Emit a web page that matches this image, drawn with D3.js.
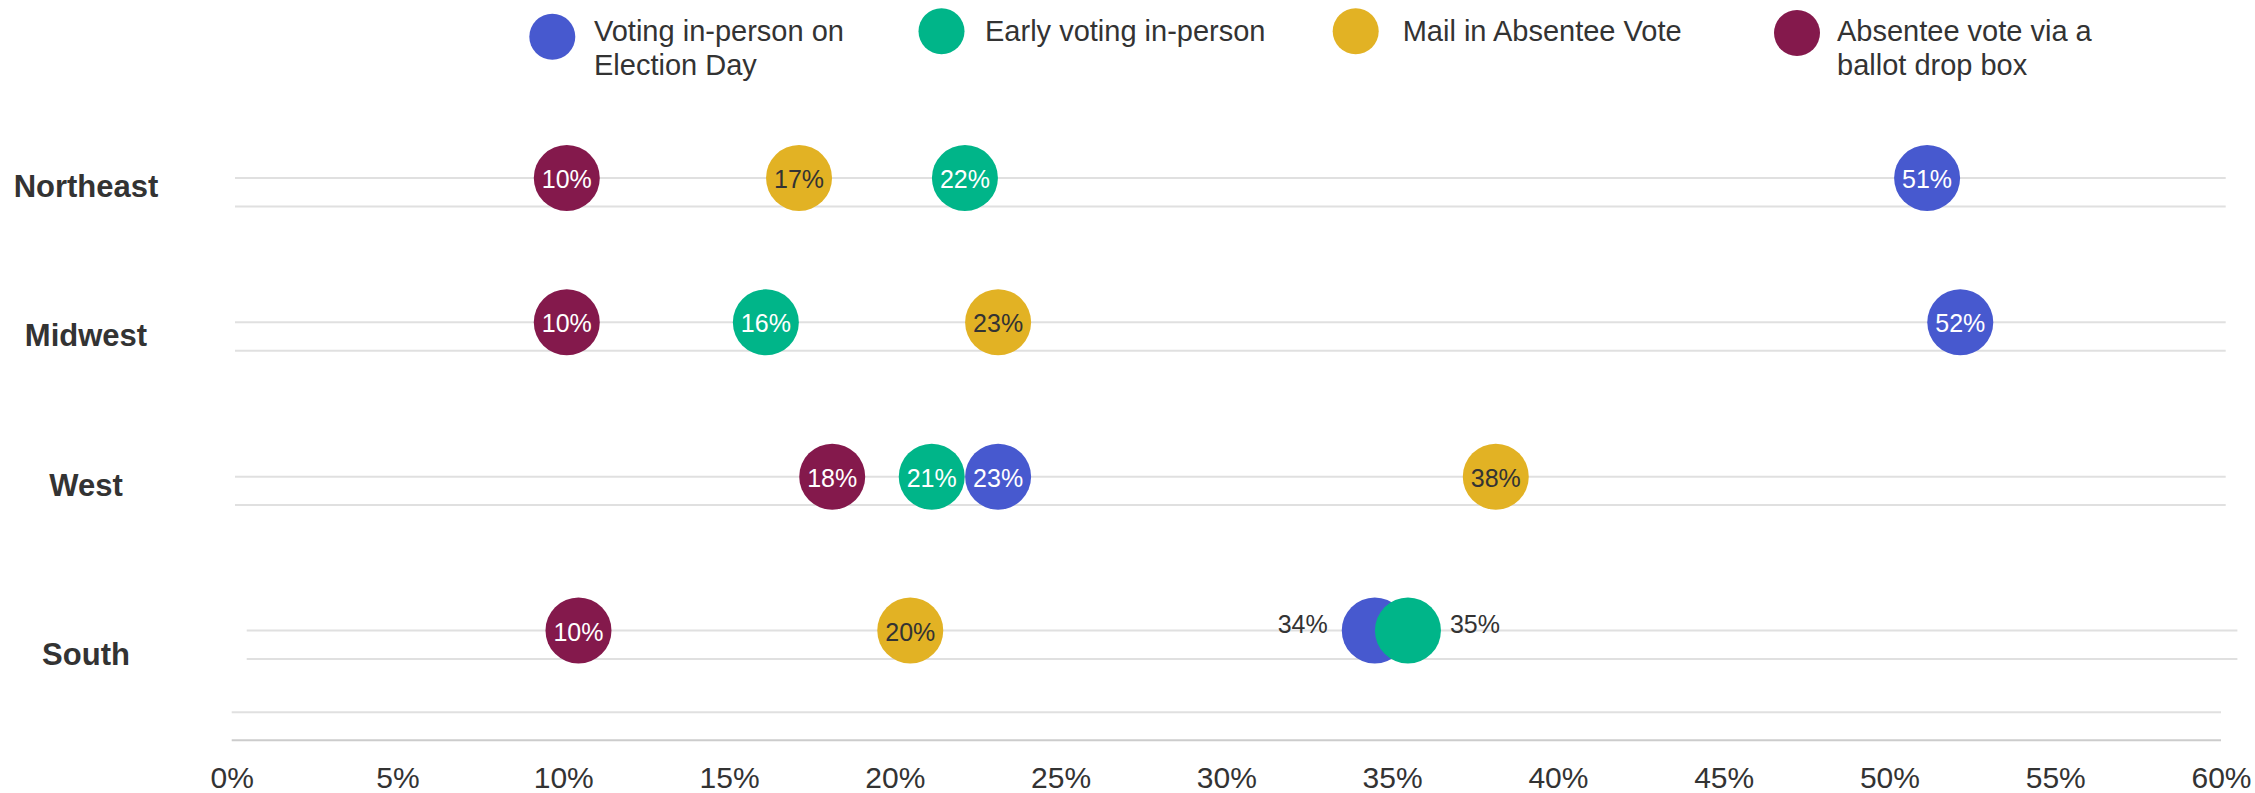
<!DOCTYPE html>
<html>
<head>
<meta charset="utf-8">
<script src="https://cdn.jsdelivr.net/npm/d3@7"></script>
<style>
  html, body { margin: 0; padding: 0; background: #ffffff; }
  svg { display: block; font-family: "Liberation Sans", Arial, sans-serif; }
</style>
</head>
<body>
<svg id="chart" width="2255" height="793"></svg>
<script>
// ---------- DATA ----------
const regions = ["Northeast", "Midwest", "West", "South"];
const seriesNames = [
  "Voting in-person on Election Day",
  "Early voting in-person",
  "Mail in Absentee Vote",
  "Absentee vote via a ballot drop box"
];
const legendLines = [
  ["Voting in-person on", "Election Day"],
  ["Early voting in-person"],
  ["Mail in Absentee Vote"],
  ["Absentee vote via a", "ballot drop box"]
];
const electionDay = [51, 52, 23, 34];
const earlyVoting = [22, 16, 21, 35];
const mailIn      = [17, 23, 38, 20];
const dropBox     = [10, 10, 18, 10];
const tickValues  = [0, 5, 10, 15, 20, 25, 30, 35, 40, 45, 50, 55, 60];
const tickLabels  = ["0%", "5%", "10%", "15%", "20%", "25%", "30%", "35%", "40%", "45%", "50%", "55%", "60%"];
// labels placed outside the dot where dots overlap (South row)
const outsideLabels = [
  { region: "South", series: 0, side: "left" },
  { region: "South", series: 1, side: "right" }
];

// ---------- STYLE / LAYOUT ----------
const colors = ["#4759cf", "#00b589", "#e2b224", "#84194c"];
const labelColors = ["#ffffff", "#ffffff", "#333333", "#ffffff"];
const textDark = "#333333";
const R = 33;
const rowDx = [0, 0, 0, 11.7];        // per-row horizontal shift of the panel
const rowDy = [0, -6.5, -3, 0];       // per-row vertical adjustment
const rowLabelDy = [8, 6.2, 6.3, 24.2];
const lineGap = 28.4;

const svg = d3.select("#chart");

const x = d3.scaleLinear().domain([0, 60]).range([235, 2225.7]);
const xAxisScale = d3.scaleLinear().domain([0, 60]).range([231.7, 2221]);
const y = d3.scalePoint().domain(regions).range([178, 630.5]);

const seriesValues = [electionDay, earlyVoting, mailIn, dropBox];

function rowY(i) { return y(regions[i]) + rowDy[i]; }
function rowX(i, v) { return x(v) + rowDx[i]; }

// ---------- GRIDLINES ----------
const grid = svg.append("g");
regions.forEach((r, i) => {
  [0, lineGap].forEach(off => {
    grid.append("line")
      .attr("x1", rowX(i, 0)).attr("x2", rowX(i, 60))
      .attr("y1", rowY(i) + off).attr("y2", rowY(i) + off)
      .attr("stroke", "#e0e0e0").attr("stroke-width", 2);
  });
});
// bottom pair of lines (axis area)
const bottomY = y(regions[regions.length - 1]) + 81.8;
grid.append("line")
  .attr("x1", xAxisScale(0)).attr("x2", xAxisScale(60))
  .attr("y1", bottomY).attr("y2", bottomY)
  .attr("stroke", "#e0e0e0").attr("stroke-width", 2);
grid.append("line")
  .attr("x1", xAxisScale(0)).attr("x2", xAxisScale(60))
  .attr("y1", bottomY + 28).attr("y2", bottomY + 28)
  .attr("stroke", "#cccccc").attr("stroke-width", 2);

// ---------- X AXIS ----------
const axis = d3.axisBottom(xAxisScale)
  .tickValues(tickValues)
  .tickFormat((d, i) => tickLabels[i])
  .tickSize(0)
  .tickPadding(0);
const axisG = svg.append("g")
  .attr("transform", "translate(0,788)")
  .call(axis);
axisG.select(".domain").remove();
axisG.selectAll("text")
  .attr("dy", 0)
  .attr("y", 0)
  .style("font-family", "'Liberation Sans', Arial, sans-serif")
  .style("font-size", "30px")
  .attr("fill", textDark);

// ---------- REGION LABELS ----------
svg.append("g").selectAll("text")
  .data(regions)
  .join("text")
  .attr("x", 86)
  .attr("y", (d, i) => y(d) + rowLabelDy[i])
  .attr("text-anchor", "middle")
  .attr("dominant-baseline", "central")
  .attr("font-size", "31px")
  .attr("font-weight", "bold")
  .attr("fill", textDark)
  .text(d => d);

// ---------- DOTS ----------
const dots = [];
seriesValues.forEach((vals, s) => {
  vals.forEach((v, i) => {
    dots.push({ region: regions[i], ri: i, s, v });
  });
});
const dotG = svg.append("g");
dotG.selectAll("circle")
  .data(dots)
  .join("circle")
  .attr("cx", d => rowX(d.ri, d.v))
  .attr("cy", d => rowY(d.ri))
  .attr("r", R)
  .attr("fill", d => colors[d.s]);

dotG.selectAll("text")
  .data(dots)
  .join("text")
  .each(function (d) {
    const o = outsideLabels.find(q => q.region === d.region && q.series === d.s);
    const t = d3.select(this);
    const cx = rowX(d.ri, d.v), cy = rowY(d.ri);
    t.attr("font-size", "25px")
     .attr("dominant-baseline", "central")
     .text(d.v + "%");
    if (o) {
      t.attr("fill", textDark)
       .attr("y", cy - 7)
       .attr("x", o.side === "left" ? cx - R - 14 : cx + R + 9)
       .attr("text-anchor", o.side === "left" ? "end" : "start");
    } else {
      t.attr("fill", labelColors[d.s])
       .attr("x", cx)
       .attr("y", cy + 1)
       .attr("text-anchor", "middle");
    }
  });

// ---------- LEGEND ----------
const legendCx = [552.3, 941.5, 1355.7, 1797];
const legendCy = [36.7, 31.3, 31.3, 33];
const legendTx = [594, 985, 1402.7, 1837];
const legend = svg.append("g");
seriesNames.forEach((name, s) => {
  legend.append("circle")
    .attr("cx", legendCx[s]).attr("cy", legendCy[s]).attr("r", 23)
    .attr("fill", colors[s]);
  const t = legend.append("text")
    .attr("x", legendTx[s]).attr("y", 40.5)
    .attr("font-size", "29px")
    .attr("fill", textDark);
  legendLines[s].forEach((ln, k) => {
    t.append("tspan")
      .attr("x", legendTx[s])
      .attr("y", 40.5 + k * 34)
      .text(ln);
  });
});
</script>
</body>
</html>
